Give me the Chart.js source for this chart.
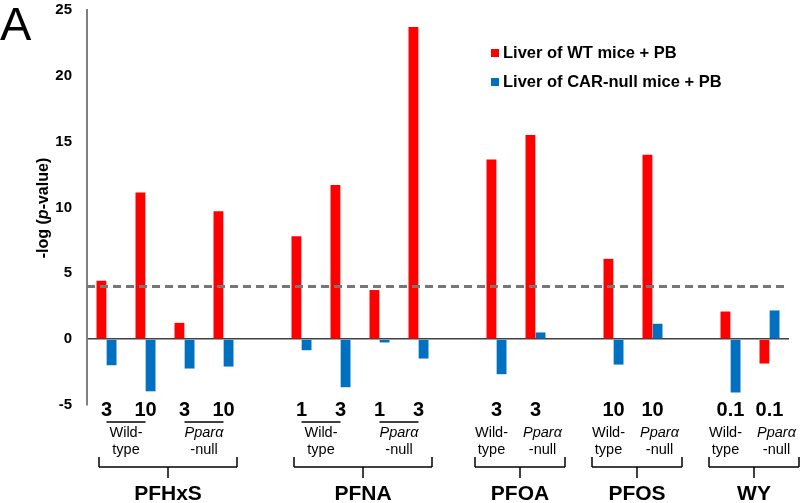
<!DOCTYPE html>
<html>
<head>
<meta charset="utf-8">
<script src="https://cdn.jsdelivr.net/npm/chart.js@4.4.1/dist/chart.umd.min.js"></script>
<style>
  body { margin: 0; background: #fff; }
  #wrap { width: 800px; height: 503px; position: relative; }
</style>
</head>
<body>
<div id="wrap"><canvas id="chart"></canvas></div>
<script>
// dose per slot ('' = spacer slot between compounds)
const doses = ['3', '10', '3', '10', '', '1', '3', '1', '3', '', '3', '3', '', '10', '10', '', '0.1', '0.1'];
const wtMice = [4.44, 11.13, 1.24, 9.72, null, 7.81, 11.7, 3.73, 23.7, null, 13.65, 15.5, null, 6.1, 14.0, null, 2.1, -1.85];
const carNullMice = [-1.98, -3.96, -2.23, -2.08, null, -0.84, -3.65, -0.25, -1.47, null, -2.66, 0.51, null, -1.93, 1.17, null, -4.05, 2.18];
const seriesNames = ['Liver of WT mice + PB', 'Liver of CAR-null mice + PB'];
const compounds = ['PFHxS', 'PFNA', 'PFOA', 'PFOS', 'WY'];
const compoundSlots = [[0, 3], [5, 8], [10, 11], [13, 14], [16, 17]];
const yTicks = [-5, 0, 5, 10, 15, 20, 25];
const threshold = 4;

const FONT = 'Arial, "Liberation Sans", sans-serif';

function txt(ctx, s, x, y, font, align) {
    ctx.font = font + ' ' + FONT;
    ctx.textAlign = align || 'center';
    ctx.textBaseline = 'middle';
    ctx.fillText(s, x, y);
}

function line(ctx, x1, y1, x2, y2) {
    ctx.beginPath();
    ctx.moveTo(x1, y1);
    ctx.lineTo(x2, y2);
    ctx.stroke();
}

const decor = {
    id: 'decor',
    afterDatasetsDraw(chart) {
        const ctx = chart.ctx, y = chart.scales.y, area = chart.chartArea;
        // threshold line
        ctx.save();
        ctx.strokeStyle = '#767676';
        ctx.lineWidth = 3;
        ctx.setLineDash([8, 5]);
        const ty = y.getPixelForValue(threshold);
        line(ctx, area.left, ty, area.right, ty);
        ctx.restore();
    },
    afterDraw(chart) {
        const ctx = chart.ctx, x = chart.scales.x;
        const slotW = x.getPixelForValue(1) - x.getPixelForValue(0);
        ctx.save();
        ctx.fillStyle = '#000';
        ctx.strokeStyle = '#000';
        ctx.lineWidth = 1.5;

        // panel letter
        txt(ctx, 'A', 0, 27, '47px', 'left');

        // y axis title with italic p
        ctx.save();
        ctx.translate(44, 208);
        ctx.rotate(-Math.PI / 2);
        const parts = [['-log (', 'bold 16px'], ['p', 'bold italic 16px'], ['-value)', 'bold 16px']];
        let total = 0;
        parts.forEach(p => { ctx.font = p[1] + ' ' + FONT; total += ctx.measureText(p[0]).width; });
        let px = -total / 2;
        parts.forEach(p => {
            ctx.font = p[1] + ' ' + FONT;
            ctx.textAlign = 'left';
            ctx.textBaseline = 'middle';
            ctx.fillText(p[0], px, 0);
            px += ctx.measureText(p[0]).width;
        });
        ctx.restore();

        // legend
        const colors = [chart.data.datasets[0].backgroundColor, chart.data.datasets[1].backgroundColor];
        seriesNames.forEach((n, i) => {
            const ly = 53 + i * 29;
            ctx.fillStyle = colors[i];
            ctx.fillRect(491, ly - 4, 8, 8);
            ctx.fillStyle = '#000';
            txt(ctx, n, 503, ly, 'bold 16.5px', 'left');
        });

        // dose labels
        doses.forEach((d, i) => {
            if (d) txt(ctx, d, x.getPixelForValue(i), 410, 'bold 20px');
        });

        compoundSlots.forEach((s, gi) => {
            const a = s[0], b = s[1];
            const left = x.getPixelForValue(a) - slotW / 2;
            const right = x.getPixelForValue(b) + slotW / 2;
            let bl, br;
            if (b - a === 3) {
                // two strains, two doses each
                [[a, 'Wild-', 'type', false], [a + 2, 'Ppar\u03b1', '-null', true]].forEach(st => {
                    const c1 = x.getPixelForValue(st[0]), c2 = x.getPixelForValue(st[0] + 1);
                    line(ctx, c1, 422, c2, 422);
                    const cx = (c1 + c2) / 2;
                    txt(ctx, st[1], cx, 433, (st[3] ? 'italic ' : '') + '14.5px');
                    txt(ctx, st[2], cx, 450, '14.5px');
                });
                bl = left + 12; br = right - 6;
            } else {
                const c1 = x.getPixelForValue(a) - 5, c2 = x.getPixelForValue(b) + 7;
                txt(ctx, 'Wild-', c1, 433, '14.5px');
                txt(ctx, 'type', c1, 450, '14.5px');
                txt(ctx, 'Ppar\u03b1', c2, 433, 'italic 14.5px');
                txt(ctx, '-null', c2, 450, '14.5px');
                bl = left - 2; br = right + 10;
            }
            // bracket
            line(ctx, bl, 457, bl, 467);
            line(ctx, br, 457, br, 467);
            line(ctx, bl, 467, br, 467);
            const mid = (bl + br) / 2;
            line(ctx, mid, 467, mid, 478);
            txt(ctx, compounds[gi], mid, 494, 'bold 21px');
        });
        ctx.restore();
    }
};

new Chart(document.getElementById('chart').getContext('2d'), {
    type: 'bar',
    data: {
        labels: doses,
        datasets: [
            { label: seriesNames[0], data: wtMice, backgroundColor: '#ff0000', categoryPercentage: 0.52, barPercentage: 0.97 },
            { label: seriesNames[1], data: carNullMice, backgroundColor: '#0070c0', categoryPercentage: 0.52, barPercentage: 0.97 }
        ]
    },
    options: {
        responsive: true,
        maintainAspectRatio: false,
        animation: false,
        layout: { padding: { top: 10, right: 11, bottom: 98, left: 0 } },
        plugins: { legend: { display: false }, tooltip: { enabled: false } },
        scales: {
            x: { display: false },
            y: {
                min: -5,
                max: 25,
                afterFit: (scale) => { scale.width = 87; },
                afterBuildTicks: (scale) => { scale.ticks = yTicks.map(v => ({ value: v })); },
                ticks: { color: '#000', padding: 0, font: { family: FONT, size: 15, weight: 'bold' } },
                border: { color: '#7f7f7f', width: 2 },
                grid: {
                    drawTicks: true,
                    tickLength: 15,
                    tickColor: 'rgba(0,0,0,0)',
                    lineWidth: 1.5,
                    color: (c) => (c.tick && c.tick.value === 0) ? '#404040' : 'rgba(0,0,0,0)'
                }
            }
        }
    },
    plugins: [decor]
});
</script>
</body>
</html>
